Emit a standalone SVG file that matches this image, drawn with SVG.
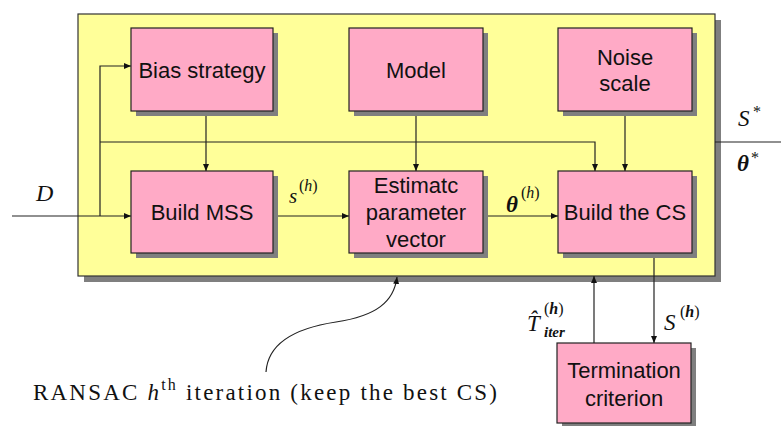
<svg xmlns="http://www.w3.org/2000/svg" width="781" height="426" viewBox="0 0 781 426">
  <defs>
    <marker id="arrow" markerWidth="8" markerHeight="8" refX="7" refY="4" orient="auto" markerUnits="userSpaceOnUse">
      <path d="M0,1 L7,4 L0,7 Z" fill="#111"/>
    </marker>
    <style>
      .shadow { fill: #7f7f7f; }
      .frame { fill: #ffff99; stroke: #333; stroke-width: 1.2; }
      .box { fill: #ffaac6; stroke: #222; stroke-width: 1.2; }
      .lbl { font-family: "Liberation Sans", Arial, sans-serif; font-size: 22px; fill: #111; text-anchor: middle; }
      .math { font-family: "Liberation Serif", "Times New Roman", serif; font-style: italic; fill: #111; }
      .mathb { font-family: "Liberation Serif", "Times New Roman", serif; font-style: italic; font-weight: bold; fill: #111; }
      .rm { font-family: "Liberation Serif", "Times New Roman", serif; fill: #111; }
      .wire { fill: none; stroke: #222; stroke-width: 1.2; }
    </style>
  </defs>

  <rect width="781" height="426" fill="#ffffff"/>

  <!-- iteration frame -->
  <g id="frame">
    <rect class="shadow" x="84" y="20" width="637" height="262"/>
    <rect class="frame" x="78" y="14" width="637" height="262"/>
  </g>

  <!-- connectors -->
  <g id="connectors">
    <!-- input D -->
    <path class="wire" d="M12,216 H131" marker-end="url(#arrow)"/>
    <path class="wire" d="M100,216 V66 H131" marker-end="url(#arrow)"/>
    <path class="wire" d="M100,142 H595 V171" marker-end="url(#arrow)"/>
    <!-- vertical feeds -->
    <path class="wire" d="M206,111 V171" marker-end="url(#arrow)"/>
    <path class="wire" d="M416,111 V171" marker-end="url(#arrow)"/>
    <path class="wire" d="M625,111 V171" marker-end="url(#arrow)"/>
    <!-- main chain -->
    <path class="wire" d="M273,216 H349" marker-end="url(#arrow)"/>
    <path class="wire" d="M483,216 H558" marker-end="url(#arrow)"/>
    <!-- termination loop -->
    <path class="wire" d="M654,253 V343" marker-end="url(#arrow)"/>
    <path class="wire" d="M594,343 V276" marker-end="url(#arrow)"/>
    <!-- outputs -->
    <path class="wire" d="M715,142 H781"/>
    <!-- annotation pointer -->
    <path class="wire" d="M266,372 C268,342 296,328 336,322 C376,316 394,302 397,277" marker-end="url(#arrow)"/>
  </g>

  <g id="bias">
    <rect class="shadow" x="136" y="33" width="142" height="83"/>
    <rect class="box" x="131" y="28" width="142" height="83"/>
    <text class="lbl" x="202" y="78">Bias strategy</text>
  </g>

  <g id="model">
    <rect class="shadow" x="354" y="33" width="134" height="83"/>
    <rect class="box" x="349" y="28" width="134" height="83"/>
    <text class="lbl" x="416" y="78">Model</text>
  </g>

  <g id="noise">
    <rect class="shadow" x="563" y="33" width="134" height="83"/>
    <rect class="box" x="558" y="28" width="134" height="83"/>
    <text class="lbl" x="625" y="65">Noise</text>
    <text class="lbl" x="625" y="91">scale</text>
  </g>

  <g id="mss">
    <rect class="shadow" x="136" y="176" width="142" height="82"/>
    <rect class="box" x="131" y="171" width="142" height="82"/>
    <text class="lbl" x="202" y="220">Build MSS</text>
  </g>

  <g id="estimate">
    <rect class="shadow" x="354" y="176" width="134" height="82"/>
    <rect class="box" x="349" y="171" width="134" height="82"/>
    <text class="lbl" x="416" y="193">Estimatc</text>
    <text class="lbl" x="416" y="220">parameter</text>
    <text class="lbl" x="416" y="247">vector</text>
  </g>

  <g id="cs">
    <rect class="shadow" x="563" y="176" width="134" height="82"/>
    <rect class="box" x="558" y="171" width="134" height="82"/>
    <text class="lbl" x="625" y="220">Build the CS</text>
  </g>

  <g id="termination">
    <rect class="shadow" x="562" y="348" width="134" height="80"/>
    <rect class="box" x="557" y="343" width="134" height="80"/>
    <text class="lbl" x="624" y="378">Termination</text>
    <text class="lbl" x="624" y="406">criterion</text>
  </g>

  <!-- math labels -->
  <g id="labels">
    <text class="math" x="36" y="201" font-size="24">D</text>
    <text class="math" x="289" y="203" font-size="21">s</text>
    <text class="rm" x="299" y="191" font-size="16">(<tspan class="math">h</tspan>)</text>
    <text class="mathb" x="506" y="212" font-size="23">θ</text>
    <text class="rm" x="521" y="198" font-size="16">(<tspan class="math">h</tspan>)</text>
    <text class="math" x="527" y="331" font-size="23">T&#x302;</text>
    <text class="rm" x="544" y="314" font-size="16">(<tspan class="mathb">h</tspan>)</text>
    <text class="mathb" x="544" y="337" font-size="15">iter</text>
    <text class="math" x="664" y="330" font-size="23">S</text>
    <text class="rm" x="680" y="317" font-size="16">(<tspan class="mathb">h</tspan>)</text>
    <text class="math" x="738" y="126" font-size="23">S</text>
    <text class="rm" x="753" y="117" font-size="16">*</text>
    <text class="mathb" x="737" y="171" font-size="23">θ</text>
    <text class="rm" x="751" y="163" font-size="16">*</text>
  </g>

  <!-- annotation -->
  <g id="note">
    <text class="rm" x="33" y="400" font-size="23" letter-spacing="2.2">RANSAC <tspan class="math">h</tspan><tspan font-size="16" dy="-10">th</tspan><tspan dy="10"> iteration (keep the best CS)</tspan></text>
  </g>
</svg>
